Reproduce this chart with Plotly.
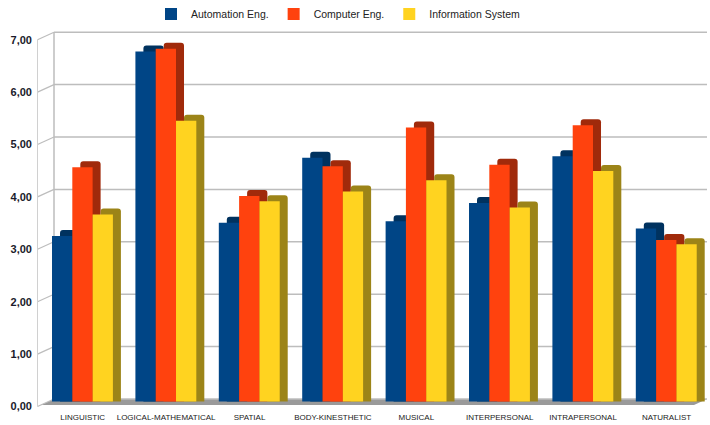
import plotly.graph_objects as go

categories = ["LINGUISTIC", "LOGICAL-MATHEMATICAL", "SPATIAL", "BODY-KINESTHETIC",
              "MUSICAL", "INTERPERSONAL", "INTRAPERSONAL", "NATURALIST"]
automation = [3.16, 6.68, 3.41, 4.65, 3.44, 3.79, 4.68, 3.30]
computer = [4.47, 6.73, 3.92, 4.49, 5.23, 4.52, 5.27, 3.08]
information = [3.57, 5.36, 3.82, 4.01, 4.22, 3.70, 4.40, 3.00]
series_names = ["Automation Eng.", "Computer Eng.", "Information System"]
y_ticks = [0, 1, 2, 3, 4, 5, 6, 7]

front_colors = ["#004586", "#ff420e", "#ffd320"]
side_colors = ["#00325f", "#a02a0b", "#9c8418"]

W, H = 710, 425
ML, MR, MT, MB = 37, 2, 25, 17
plot_w = W - ML - MR
plot_h = H - MT - MB
PX_PER_CAT = 83.4
PX_PER_UNIT = 52.4
cat0_px = 82.7
zero_px = 401.5

x_range = [-(cat0_px - ML) / PX_PER_CAT, (W - MR - cat0_px) / PX_PER_CAT]
y_range = [-((H - MB) - zero_px) / PX_PER_UNIT, (zero_px - MT) / PX_PER_UNIT]

bar_w = 20.3 / PX_PER_CAT
offsets = [-0.368, -0.368 + bar_w, -0.368 + 2 * bar_w]
dx = 8 / PX_PER_CAT
dy = 6 / PX_PER_UNIT
back_dy = 2.5 / PX_PER_UNIT
front_label_dy = -5 / PX_PER_UNIT


def paper_x(px):
    return (px - ML) / plot_w


def paper_y(py):
    return ((H - MB) - py) / plot_h


fig = go.Figure()
data = [automation, computer, information]
for i, vals in enumerate(data):
    fig.add_trace(go.Bar(
        x=categories, y=[v + dy for v in vals], offset=offsets[i] + dx, width=bar_w,
        marker=dict(color=side_colors[i], line=dict(width=0), cornerradius=3),
        showlegend=False, hoverinfo="skip"))
    fig.add_trace(go.Bar(
        x=categories, y=vals, offset=offsets[i], width=bar_w, name=series_names[i],
        marker=dict(color=front_colors[i], line=dict(width=0))))

shapes = []
grid_col = "#bdbdbd"
floor_path = "M {a},{b} L {c},{d} L {e},{d} L {f},{b} Z".format(
    a=paper_x(41), b=-3.5 / PX_PER_UNIT, c=paper_x(54), d=back_dy,
    e=paper_x(707), f=paper_x(694))
shapes.append(dict(type="path", path=floor_path, xref="paper", yref="y",
                   fillcolor="#9a9a9a", line=dict(width=0), layer="below"))
for t in y_ticks:
    shapes.append(dict(type="line", xref="paper", yref="y",
                       x0=paper_x(54), x1=paper_x(707), y0=t + back_dy, y1=t + back_dy,
                       line=dict(color=grid_col, width=1.5), layer="below"))
    shapes.append(dict(type="line", xref="paper", yref="y",
                       x0=paper_x(37.5), x1=paper_x(54), y0=t + front_label_dy, y1=t + back_dy,
                       line=dict(color=grid_col, width=1.2), layer="below"))
shapes.append(dict(type="line", xref="paper", yref="y",
                   x0=paper_x(54), x1=paper_x(54), y0=back_dy, y1=y_ticks[-1] + back_dy,
                   line=dict(color=grid_col, width=1.5), layer="below"))
shapes.append(dict(type="line", xref="paper", yref="y",
                   x0=paper_x(37.5), x1=paper_x(37.5), y0=front_label_dy,
                   y1=y_ticks[-1] + front_label_dy,
                   line=dict(color="#d0d0d0", width=1), layer="below"))

fig.update_layout(
    width=W, height=H,
    margin=dict(l=ML, r=MR, t=MT, b=MB, pad=0, autoexpand=False),
    barmode="overlay",
    separators=", ",
    paper_bgcolor="white", plot_bgcolor="white",
    font=dict(family="Liberation Sans, Arial, sans-serif", color="#1a1a1a"),
    shapes=shapes,
    showlegend=True,
    legend=dict(orientation="h", x=paper_x(338), xanchor="center", y=paper_y(14), yanchor="middle",
                font=dict(size=10.5, family="Liberation Sans, Arial, sans-serif", color="#222222"),
                itemwidth=30, bgcolor="rgba(0,0,0,0)", traceorder="normal"),
    xaxis=dict(range=x_range, showgrid=False, zeroline=False, showline=False,
               ticks="", ticklabelstandoff=3,
               tickfont=dict(size=8, family="Liberation Sans, Arial, sans-serif", color="#1a1a1a"),
               fixedrange=True),
    yaxis=dict(range=y_range, tickvals=y_ticks, tickformat=".2f", showgrid=False,
               zeroline=False, showline=False, ticks="", ticklabelshift=5, ticklabelstandoff=4,
               tickfont=dict(size=11, family="Liberation Sans, Arial, sans-serif", color="#1a1a2a",
                             weight="bold"), fixedrange=True),
)

fig.write_html("out.html")
